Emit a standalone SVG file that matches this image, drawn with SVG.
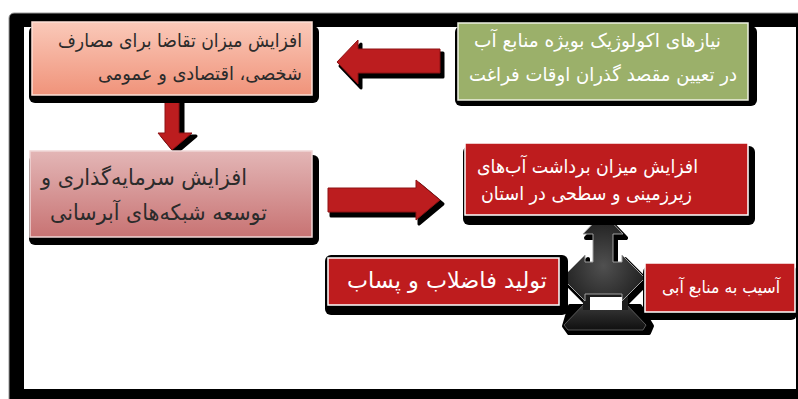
<svg xmlns="http://www.w3.org/2000/svg" width="798" height="399" viewBox="0 0 798 399">
<defs>
<linearGradient id="gSalmon" x1="0" y1="0" x2="0" y2="1"><stop offset="0" stop-color="#fac9b9"/><stop offset="1" stop-color="#f0937a"/></linearGradient>
<linearGradient id="gPink" x1="0" y1="0" x2="0" y2="1"><stop offset="0" stop-color="#e3b6b6"/><stop offset="1" stop-color="#c87373"/></linearGradient>
<radialGradient id="gDark" cx="0.5" cy="0.6" r="0.6"><stop offset="0" stop-color="#505050"/><stop offset="1" stop-color="#1a1a1a"/></radialGradient>
<linearGradient id="gBase" x1="0" y1="0" x2="0" y2="1"><stop offset="0" stop-color="#3a3a3a"/><stop offset="1" stop-color="#101010"/></linearGradient>
</defs>
<style>
.shadow{fill:#000}
.box{stroke-width:1.5}
.red{fill:#be1c1e;stroke:#ffffff}
.t{font-family:"DejaVu Sans",sans-serif;text-anchor:end}
.dk{fill:#2b2b2b}
.wh{fill:#ffffff}
.arrow{fill:#bc1d1f;stroke:#8e1214;stroke-width:1;stroke-linejoin:round}
.ashadow{fill:#000;stroke:#000;stroke-width:3;stroke-linejoin:round}
</style>
<rect width="798" height="399" fill="#ffffff"/>
<g id="frame">
<rect x="9" y="13" width="795" height="392" rx="5" fill="#000" stroke="#999" stroke-width="1"/>
<rect x="24" y="27" width="772" height="362" fill="#ffffff"/>
</g>
<g id="connectors">
<g id="arrow-left">
<polygon class="ashadow" transform="translate(3,4)" points="337,62 358,40 358,49 440,49 440,73 358,73 358,84"/>
<polygon class="arrow" points="337,62 358,40 358,49 440,49 440,73 358,73 358,84"/>
</g>
<g id="arrow-down">
<polygon class="ashadow" transform="translate(4,3)" points="165,95 179,95 179,133 192,133 172,150 158,133 165,133"/>
<polygon class="arrow" points="165,95 179,95 179,133 192,133 172,150 158,133 165,133"/>
</g>
<g id="arrow-right">
<polygon class="ashadow" transform="translate(3,4)" points="328,188 416,188 416,180 440,200 416,220 416,212 328,212"/>
<polygon class="arrow" points="328,188 416,188 416,180 440,200 416,220 416,212 328,212"/>
</g>
<g id="arrow-three-way">
<polygon fill="#000" stroke="#000" stroke-width="4" stroke-linejoin="round" points="570,306 640,306 652,326 649,333 569,333 564,326"/>
<polygon fill="url(#gBase)" stroke="#6a6a6a" stroke-width="0.8" points="584,304 626,304 646,325 643,330 568,330 564,325"/>
<polygon fill="#000" stroke="#000" stroke-width="4" stroke-linejoin="round" transform="translate(3,4)" points="603,213 623,234 613,234 613,262 622,262 622,255 645,278 622,301 622,294 585,294 585,301 562,278 585,255 585,262 593,262 593,234 583,234"/>
<rect x="583" y="292" width="45" height="18" fill="#1c1c1c"/>
<polygon fill="url(#gDark)" stroke="#a0a0a0" stroke-width="1" stroke-linejoin="round" points="603,213 623,234 613,234 613,262 622,262 622,255 645,278 622,301 622,294 585,294 585,301 562,278 585,255 585,262 593,262 593,234 583,234"/>
<rect x="590" y="297" width="32" height="13" fill="#ffffff"/>
</g>
</g>
<g id="node-1">
<rect class="shadow" x="29" y="26" width="290" height="77" rx="6"/>
<rect class="box" x="32" y="22" width="280" height="73" fill="url(#gSalmon)" stroke="#fde0d6"/>
<text class="t dk" x="302" y="47" font-size="19" textLength="244" lengthAdjust="spacingAndGlyphs">افزایش میزان تقاضا برای مصارف</text>
<text class="t dk" x="302" y="80" font-size="19" textLength="204" lengthAdjust="spacingAndGlyphs">شخصی، اقتصادی و عمومی</text>
</g>
<g id="node-2">
<rect class="shadow" x="455" y="26" width="302" height="80" rx="6"/>
<rect class="box" x="458" y="23" width="290" height="77" fill="#9bb06a" stroke="#eef1e2"/>
<text class="t wh" x="721" y="47" font-size="19" textLength="247" lengthAdjust="spacingAndGlyphs">نیازهای اکولوژیک بویژه منابع آب</text>
<text class="t wh" x="737" y="81" font-size="19" textLength="268" lengthAdjust="spacingAndGlyphs">در تعیین مقصد گذران اوقات فراغت</text>
</g>
<g id="node-3">
<rect class="shadow" x="29" y="155" width="290" height="90" rx="6"/>
<rect class="box" x="30" y="151" width="282" height="86" fill="url(#gPink)" stroke="#f0d6d6"/>
<text class="t dk" x="247" y="185" font-size="22" textLength="206" lengthAdjust="spacingAndGlyphs">افزایش سرمایه‌گذاری و</text>
<text class="t dk" x="267" y="220" font-size="22" textLength="217" lengthAdjust="spacingAndGlyphs">توسعه شبکه‌های آبرسانی</text>
</g>
<g id="node-4">
<rect class="shadow" x="463" y="146" width="292" height="79" rx="6"/>
<rect class="box red" x="465" y="143" width="283" height="72"/>
<text class="t wh" x="698" y="173" font-size="19" textLength="221" lengthAdjust="spacingAndGlyphs">افزایش میزان برداشت آب‌های</text>
<text class="t wh" x="692" y="200" font-size="19" textLength="211" lengthAdjust="spacingAndGlyphs">زیرزمینی و سطحی در استان</text>
</g>
<g id="node-5">
<rect class="shadow" x="325" y="255" width="243" height="60" rx="6"/>
<rect class="box red" x="328" y="258" width="231" height="47"/>
<text class="t wh" x="547" y="288" font-size="22" textLength="200" lengthAdjust="spacingAndGlyphs">تولید فاضلاب و پساب</text>
</g>
<g id="node-6">
<rect class="shadow" x="643" y="266" width="154" height="54" rx="6"/>
<rect class="box red" x="645" y="263" width="150" height="49"/>
<text class="t wh" x="780" y="293" font-size="17" textLength="118" lengthAdjust="spacingAndGlyphs">آسیب به منابع آبی</text>
</g>
</svg>
